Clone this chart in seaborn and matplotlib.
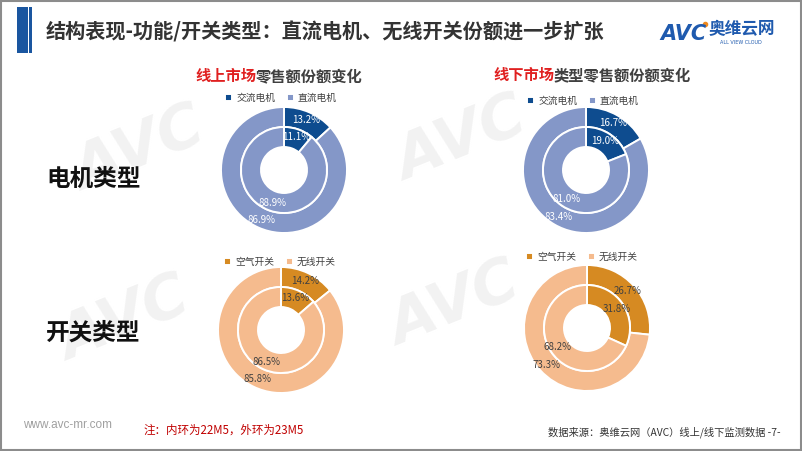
import matplotlib.pyplot as plt
import seaborn as sns
from matplotlib.patches import Rectangle

sns.set_theme(style="white")
plt.rcParams['font.family'] = ['Noto Sans CJK SC', 'DejaVu Sans']

W, H = 802, 451

## data: inner ring = 22M5, outer ring = 23M5
motor_cats = ['交流电机', '直流电机']
switch_cats = ['空气开关', '无线开关']

online_motor_inner = [11.1, 88.9]
online_motor_outer = [13.2, 86.9]
offline_motor_inner = [19.0, 81.0]
offline_motor_outer = [16.7, 83.4]
online_switch_inner = [13.6, 86.5]
online_switch_outer = [14.2, 85.8]
offline_switch_inner = [31.8, 68.2]
offline_switch_outer = [26.7, 73.3]

motor_colors = ['#0E4C8F', '#8497C8']
switch_colors = ['#D68A22', '#F5BB8E']

fig = plt.figure(figsize=(W / 100, H / 100), dpi=100)
bg = fig.add_axes([0, 0, 1, 1])
bg.set_xlim(0, W)
bg.set_ylim(H, 0)
bg.axis('off')

# frame + title bar
bg.add_patch(Rectangle((1, 1), W - 2, H - 2, fill=False, edgecolor='#8C8C8C', lw=1.5))
bg.add_patch(Rectangle((17, 7), 11, 46, color='#1A56A0', lw=0))
bg.add_patch(Rectangle((29, 7), 3, 46, color='#1A56A0', lw=0))
bg.text(46, 32, '结构表现-功能/开关类型：直流电机、无线开关份额进一步扩张', fontsize=14.5,
        fontweight='bold', color='#333333', va='center', ha='left')

# logo
bg.text(660, 34, 'AVC', fontsize=15, fontweight='heavy', style='italic', color='#1F5AAE',
        va='center', ha='left', family='DejaVu Sans')
bg.plot([705], [24], 'o', color='#F08A1E', ms=3)
bg.text(709, 29, '奥维云网', fontsize=12, fontweight='bold', color='#1F5AAE', va='center', ha='left')
bg.text(741, 42, 'ALL VIEW CLOUD', fontsize=3.5, color='#1F5AAE', va='center', ha='center',
        family='DejaVu Sans')

# watermarks
for x, y in [(140, 150), (462, 140), (125, 320), (455, 305)]:
    bg.text(x, y, 'AVC', fontsize=44, fontweight='heavy', style='italic', color='#F2F2F2',
            rotation=22, ha='center', va='center', family='DejaVu Sans', zorder=0)

# row labels
bg.text(46, 179, '电机类型', fontsize=17, fontweight='bold', color='#111111', va='center')
bg.text(46, 333, '开关类型', fontsize=17, fontweight='bold', color='#111111', va='center')

# subtitles
bg.text(195, 76, '线上市场', fontsize=11, fontweight='bold', color='#E02020', va='center')
bg.text(256, 76, '零售额份额变化', fontsize=11, fontweight='bold', color='#404040', va='center')
bg.text(493, 75, '线下市场', fontsize=11, fontweight='bold', color='#E02020', va='center')
bg.text(554, 75, '类型零售额份额变化', fontsize=11, fontweight='bold', color='#404040', va='center')

# footer
bg.text(23, 425, 'www.avc-mr.com', fontsize=8.5, color='#A0A0A0', va='center',
        family='Liberation Sans')
bg.text(143, 430, '注：内环为22M5，外环为23M5', fontsize=8.3, color='#C00000', va='center')
bg.text(781, 432, '数据来源：奥维云网（AVC）线上/线下监测数据 -7-', fontsize=7.4, color='#333333',
        va='center', ha='right')


def donut(cx, cy, inner, outer, cats, colors, tcolor, leg_xy):
    S = 80
    ax = fig.add_axes([(cx - S) / W, 1 - (cy + S) / H, 2 * S / W, 2 * S / H])
    wedges = None
    for vals, r, pdist in [(outer, 63, 0.87), (inner, 43, 0.81)]:
        labs = iter([f'{v:.1f}%' for v in vals])
        w, *_ = ax.pie(vals, radius=r, colors=colors, startangle=90, counterclock=False,
                       wedgeprops=dict(width=20, edgecolor='white', linewidth=1.4),
                       autopct=lambda p: next(labs), pctdistance=pdist,
                       textprops=dict(color=tcolor, fontsize=7))
        if wedges is None:
            wedges = w
    ax.set_xlim(-S, S)
    ax.set_ylim(-S, S)
    ax.set_aspect('equal')
    ax.axis('off')
    ax.legend(wedges, cats, ncol=2, loc='center', bbox_to_anchor=leg_xy,
              bbox_transform=bg.transData, frameon=False, fontsize=7,
              handlelength=0.7, handleheight=0.7, handletextpad=0.4, columnspacing=1.2,
              labelcolor='#404040')


donut(284, 170, online_motor_inner, online_motor_outer, motor_cats, motor_colors, 'white', (281, 98))
donut(586, 170, offline_motor_inner, offline_motor_outer, motor_cats, motor_colors, 'white', (583, 101))
donut(281, 330, online_switch_inner, online_switch_outer, switch_cats, switch_colors, '#404040', (280, 262))
donut(587, 328, offline_switch_inner, offline_switch_outer, switch_cats, switch_colors, '#404040', (582, 257))

fig.savefig('out.png', dpi=100)
